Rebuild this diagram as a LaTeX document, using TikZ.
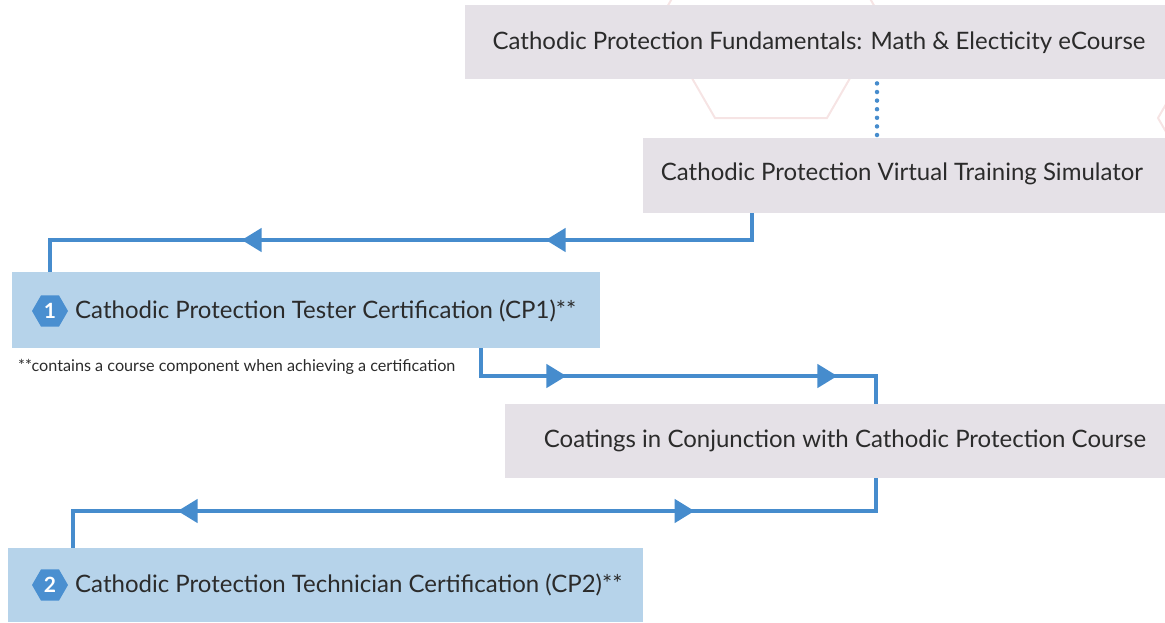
\documentclass[tikz,border=0pt]{standalone}
\usepackage{fontspec}
\setmainfont{Lato}
\usetikzlibrary{shapes.geometric,arrows.meta,decorations.markings}
\definecolor{boxgray}{HTML}{E5E1E7}
\definecolor{boxblue}{HTML}{B6D3EA}
\definecolor{flowblue}{HTML}{468CCD}
\definecolor{badgeblue}{HTML}{4A8FD0}
\definecolor{hexpink}{HTML}{F6E4E4}
\definecolor{ink}{HTML}{2B2B2B}
\tikzset{
  panel/.style={draw=none, anchor=north west, inner sep=0pt},
  graybox/.style={panel, fill=boxgray},
  bluebox/.style={panel, fill=boxblue},
  boxtext/.style={font=\fontsize{24}{28}\selectfont, text=ink, inner sep=0pt},
  note/.style={font=\fontsize{16.2}{19}\selectfont, text=ink, inner sep=0pt, anchor=west},
  badge/.style={regular polygon, regular polygon sides=6, fill=badgeblue, minimum size=36pt,
    inner sep=0pt, text=white, font=\bfseries\fontsize{21}{21}\selectfont},
  flow/.style={draw=flowblue, line width=4.5pt},
  dotlink/.style={draw=flowblue, line width=4.5pt, line cap=round, dash pattern=on 0pt off 8.6pt},
  hexline/.style={draw=hexpink, line width=2pt},
  flowtip/.tip={Triangle[length=20pt,width=23pt]},
}
\begin{document}
\begin{tikzpicture}[x=1pt,y=-1pt]
\useasboundingbox (0,0) rectangle (1165,622);
\clip (0,0) rectangle (1165,622);
% faint hexagon outlines in the background
\draw[hexline] (659,21) -- (715,118) -- (827,118) -- (883,21) -- (827,-76) -- (715,-76) -- cycle;
\draw[hexline] (1158,118) -- (1214,215) -- (1326,215) -- (1382,118) -- (1326,21) -- (1214,21) -- cycle;

% course and certification panels
\node[graybox, minimum width=700pt, minimum height=74pt] (fund) at (465,5) {};
\node[boxtext] (fundtxt) at (819,43) {Cathodic Protection Fundamentals: Math \& Electicity eCourse};

\node[graybox, minimum width=522pt, minimum height=75pt] (sim) at (643,138) {};
\node[boxtext] (simtxt) at (902,174) {Cathodic Protection Virtual Training Simulator};

\node[bluebox, minimum width=588pt, minimum height=76pt] (cp1) at (12,272) {};
\node[badge] (b1) at (50,311) {1};
\node[boxtext, anchor=west] (cp1txt) at (75,311) {Cathodic Protection Tester Certification (CP1)**};
\node[note] (fn) at (18,367) {**contains a course component when achieving a certification};

\node[graybox, minimum width=660pt, minimum height=74pt] (coat) at (505,404) {};
\node[boxtext] (coattxt) at (845,441) {Coatings in Conjunction with Cathodic Protection Course};

\node[bluebox, minimum width=635pt, minimum height=74pt] (cp2) at (8,548) {};
\node[badge] (b2) at (50,585) {2};
\node[boxtext, anchor=west] (cp2txt) at (75,585) {Cathodic Protection Technician Certification (CP2)**};

% connectors
\draw[dotlink] ([xshift=412pt,yshift=-4pt]fund.south west) -- ([xshift=234pt,yshift=3pt]sim.north west);

\draw[flow, postaction={decorate}, decoration={markings,
    mark=at position 233pt with {\arrow{flowtip}},
    mark=at position 537pt with {\arrow{flowtip}}}]
  ([xshift=109pt]sim.south west) |- ([xshift=38pt,yshift=32pt]cp1.north west)
  -- ([xshift=38pt]cp1.north west);

\draw[flow, postaction={decorate}, decoration={markings,
    mark=at position 113pt with {\arrow{flowtip}},
    mark=at position 384pt with {\arrow{flowtip}}}]
  ([xshift=469pt]cp1.south west) |- ([xshift=371pt,yshift=28pt]coat.north west)
  -- ([xshift=371pt]coat.north west);

\draw[flow, postaction={decorate}, decoration={markings,
    mark=at position 214pt with {\arrowreversed{flowtip}},
    mark=at position 731pt with {\arrow{flowtip}}}]
  ([xshift=371pt]coat.south west) |- ([xshift=65pt,yshift=37pt]cp2.north west)
  -- ([xshift=65pt]cp2.north west);
\end{tikzpicture}
\end{document}
